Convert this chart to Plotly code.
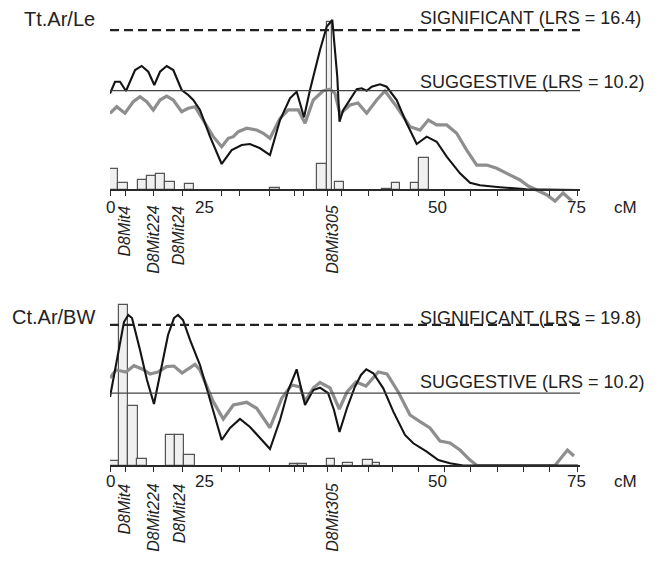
import plotly.graph_objects as go

# ---------------- data ----------------
# Top panel: Tt.Ar/Le  (x in cM-scale position, y in LRS)
TOP_BLACK_CM = [0, 0.8, 1.6, 2.55, 4.0, 5.06, 6.11, 7.07, 7.98, 9.05, 10.1, 11.44, 12.49, 13.29, 14.36,
                15.96, 17.82, 19.42, 21.02, 22.34, 23.94, 25.53, 27.13, 28.72, 29.79, 30.96, 31.91,
                33.51, 34.58, 35.47, 36.27, 36.62, 37.23, 38.30, 39.37, 40.16, 40.96, 41.76, 43.08,
                44.15, 45.75, 47.34, 48.94, 50.54, 52.13, 53.73, 55.85, 57.45, 59.04, 62.23, 66.49, 74.7]
TOP_BLACK_LRS = [9.9, 11.1, 11.1, 10.15, 12.3, 12.72, 12.13, 10.77, 12.13, 12.72, 12.31, 10.26, 9.74, 9.23, 8.21,
                 5.47, 2.67, 4.10, 4.62, 4.72, 4.28, 3.59, 7.18, 9.41, 10.08, 7.46, 10.26,
                 14.36, 16.75, 17.44, 11.62, 7.0, 8.21, 9.23, 10.33, 10.43, 10.18, 10.59, 10.84,
                 10.59, 9.23, 6.84, 4.72, 5.47, 4.95, 3.42, 1.71, 0.75, 0.48, 0.28, 0.07, 0]
TOP_GRAY_CM = [0, 1.07, 2.39, 3.72, 4.79, 5.86, 6.91, 7.98, 9.05, 10.10, 11.44, 12.49, 13.56, 14.89,
               16.48, 17.82, 18.88, 19.68, 20.47, 21.81, 23.41, 24.46, 25.53, 27.13, 28.45, 30.05,
               31.12, 32.44, 34.04, 35.11, 35.90, 36.70, 38.30, 39.57, 40.96, 42.56, 43.88, 45.75,
               47.87, 49.47, 50.79, 52.13, 53.73, 55.32, 56.92, 58.52, 60.11, 61.71, 63.83, 65.43,
               66.75, 68.09, 69.73, 71.01, 72.29, 73.72]
TOP_GRAY_LRS = [7.87, 8.54, 7.87, 9.06, 9.57, 9.06, 8.21, 9.23, 9.64, 9.23, 8.03, 8.38, 8.54, 7.18,
                5.47, 4.44, 5.30, 5.47, 5.98, 6.33, 6.15, 5.82, 5.30, 7.35, 8.21, 8.21,
                6.84, 9.23, 10.18, 10.33, 9.92, 7.8, 8.72, 8.92, 7.87, 9.23, 10.15, 8.54,
                6.49, 6.15, 7.18, 6.67, 6.67, 5.82, 4.10, 2.56, 2.56, 2.23, 1.54, 1.03,
                0.41, 0, -0.51, -1.13, -0.31, -1.13]
TOP_BOOT_CM = [0.66, 2.07, 5.18, 6.59, 8.06, 9.57, 12.69, 26.33, 33.78, 35.03, 36.62, 44.15, 45.61, 48.67, 50.15]
TOP_BOOT_W = [1.32, 1.5, 1.34, 1.5, 1.44, 1.6, 1.44, 1.6, 1.6, 0.9, 1.44, 1.6, 1.32, 1.37, 1.6]
TOP_BOOT_PCT = [12.3, 4.0, 6.0, 8.5, 9.5, 4.9, 3.4, 1.0, 15.5, 100, 4.9, 0.6, 4.0, 4.0, 19.3]
TOP_SIG, TOP_SUG = 16.4, 10.2

# Bottom panel: Ct.Ar/BW
BOT_BLACK_CM = [0, 1.28, 2.23, 2.92, 3.51, 4.79, 5.90, 7.02, 7.98, 9.26, 10.21, 10.85, 11.65, 12.77,
                14.36, 15.96, 17.82, 19.15, 20.74, 22.34, 23.94, 25.53, 27.13, 28.45, 29.79, 31.12,
                32.44, 33.51, 34.79, 35.74, 36.62, 37.82, 39.09, 40.05, 40.90, 42.02, 43.61, 45.21,
                47.07, 48.40, 50.54, 52.39, 54.25, 56.37, 74.68]
BOT_BLACK_LRS = [9.65, 15.56, 20.21, 21.20, 20.77, 16.27, 12.04, 8.66, 12.75, 18.38, 20.77, 21.20, 20.49, 17.68,
                 14.15, 9.23, 3.59, 5.28, 6.55, 5.42, 3.87, 2.32, 6.41, 10.63, 13.55, 8.52,
                 10.63, 10.96, 10.21, 7.82, 4.72, 8.10, 11.10, 12.75, 13.55, 12.99, 10.87, 7.58,
                 4.30, 3.13, 1.94, 0.77, 0.31, 0, 0]
BOT_GRAY_CM = [0, 0.96, 1.76, 2.55, 3.83, 5.11, 6.38, 7.66, 9.05, 10.21, 11.49, 12.61, 13.56, 14.36,
               15.32, 16.48, 18.08, 19.68, 21.81, 23.41, 25.53, 27.40, 28.99, 30.32, 31.12, 32.44,
               33.51, 35.11, 36.59, 37.82, 39.26, 40.85, 42.81, 44.20, 46.00, 47.87, 49.47, 51.06,
               52.66, 54.25, 55.85, 57.45, 58.56, 71.01, 73.0, 74.04]
BOT_GRAY_LRS = [12.32, 13.45, 13.31, 13.17, 14.06, 13.59, 12.89, 13.17, 13.92, 14.01, 13.03, 13.73, 14.25, 13.45,
                11.34, 8.99, 6.55, 8.52, 8.90, 8.06, 5.32, 9.46, 11.34, 11.06, 9.08, 10.92,
                11.69, 10.92, 7.96, 10.35, 11.76, 11.20, 13.17, 12.89, 10.35, 7.11, 6.17, 5.28,
                3.45, 3.17, 2.18, 0.77, 0, 0, 2.18, 1.34]
BOT_BOOT_CM = [0.74, 2.15, 3.61, 5.12, 9.65, 11.09, 12.69, 29.36, 30.7, 35.24, 38.03, 41.12, 42.5]
BOT_BOOT_W = [1.48, 1.34, 1.57, 1.47, 1.43, 1.44, 1.75, 1.28, 1.39, 1.32, 1.6, 1.6, 1.16]
BOT_BOOT_PCT = [2.4, 95.5, 35.4, 3.6, 18.2, 18.2, 6.5, 0.9, 0.9, 3.6, 1.5, 3.0, 1.2]
BOT_SIG, BOT_SUG = 19.8, 10.2

# Axis: marker tick positions, labelled markers and scale labels
TICK_CM = [0, 2.55, 7.02, 11.49, 17.87, 20.74, 25.53, 29.52, 30.8, 34.63, 36.94, 41.25, 45.0,
           49.15, 53.3, 57.45, 61.76, 65.91, 70.21, 74.68]
MARKER_NAMES = ["D8Mit4", "D8Mit224", "D8Mit24", "D8Mit305"]
MARKER_CM = [2.39, 6.91, 11.06, 35.47]
SCALE_TEXT = ["0", "25", "50", "75"]
SCALE_POS = [0, 15.0, 52.2, 74.5]
UNIT_TEXT = "cM"

# ---------------- figure ----------------
W, H = 663, 561
FONT = "Liberation Sans, Arial, sans-serif"
X0, X1 = 110, 580


def py(p):
    return 1 - p / H


fig = go.Figure()

panels = [
    dict(title="Tt.Ar/Le", xa="x", yb="y", yl="y3", axis_py=190, dom=(10, 215), lrs_px=9.75,
         bootc=TOP_BOOT_CM, bootw=TOP_BOOT_W, bootp=TOP_BOOT_PCT,
         bx=TOP_BLACK_CM, by=TOP_BLACK_LRS, gx=TOP_GRAY_CM, gy=TOP_GRAY_LRS,
         sig=TOP_SIG, sug=TOP_SUG, title_py=19, title_x=22, sig_py=18.5, sug_py=81.5,
         scale_py=207.5, marker_py=203),
    dict(title="Ct.Ar/BW", xa="x2", yb="y2", yl="y4", axis_py=465.5, dom=(290, 490), lrs_px=7.1,
         bootc=BOT_BOOT_CM, bootw=BOT_BOOT_W, bootp=BOT_BOOT_PCT,
         bx=BOT_BLACK_CM, by=BOT_BLACK_LRS, gx=BOT_GRAY_CM, gy=BOT_GRAY_LRS,
         sig=BOT_SIG, sug=BOT_SUG, title_py=317, title_x=10, sig_py=318, sug_py=381.7,
         scale_py=481.7, marker_py=481),
]

BOOT_PX = 1.68  # px per bootstrap unit
annotations = []
shapes = []

for i, p in enumerate(panels):
    xa, yb, yl = p["xa"], p["yb"], p["yl"]
    fig.add_trace(go.Bar(x=p["bootc"], y=p["bootp"], width=p["bootw"], xaxis=xa, yaxis=yb,
                         marker=dict(color="#f0f0f0", line=dict(color="#555555", width=1.2)),
                         showlegend=False, hoverinfo="skip"))
    fig.add_trace(go.Scatter(x=p["gx"], y=p["gy"], mode="lines", xaxis=xa, yaxis=yl,
                             line=dict(color="#8e8e8e", width=3.2), showlegend=False))
    fig.add_trace(go.Scatter(x=p["bx"], y=p["by"], mode="lines", xaxis=xa, yaxis=yl,
                             line=dict(color="#141414", width=2.1), showlegend=False))

    top, bot = p["dom"]
    ap = p["axis_py"]
    lrs_range = [-(bot - ap) / p["lrs_px"], (ap - top) / p["lrs_px"]]
    boot_range = [-(bot - ap) / BOOT_PX, (ap - top) / BOOT_PX]
    xname = "xaxis" if i == 0 else "xaxis2"
    ybname = "yaxis" if i == 0 else "yaxis2"
    ylname = "yaxis3" if i == 0 else "yaxis4"
    fig.layout[xname] = dict(domain=[X0 / W, X1 / W], range=[0, 75], anchor="free", position=py(ap),
                             showline=True, linecolor="#2a2a2a", linewidth=2, ticks="outside",
                             ticklen=5, tickwidth=1.2, tickcolor="#2a2a2a", tickvals=TICK_CM,
                             showticklabels=False, showgrid=False, zeroline=False)
    fig.layout[ybname] = dict(domain=[py(bot), py(top)], range=boot_range, visible=False,
                              anchor=xa)
    fig.layout[ylname] = dict(domain=[py(bot), py(top)], range=lrs_range, visible=False,
                              overlaying=yb, anchor=xa)

    # threshold lines
    shapes.append(dict(type="line", xref=xa, yref=yl, x0=0, x1=75, y0=p["sig"], y1=p["sig"],
                       line=dict(color="#222222", width=2.4, dash="9px,5px")))
    shapes.append(dict(type="line", xref=xa, yref=yl, x0=0, x1=75, y0=p["sug"], y1=p["sug"],
                       line=dict(color="#444444", width=1.2)))

    # texts
    annotations.append(dict(text=p["title"], x=p["title_x"] / W, y=py(p["title_py"]), xref="paper",
                            yref="paper", xanchor="left", yanchor="middle", showarrow=False,
                            font=dict(family=FONT, size=20, color="#222")))
    annotations.append(dict(text=f"SIGNIFICANT (LRS = {p['sig']})", x=418 / W, y=py(p["sig_py"]),
                            xref="paper", yref="paper", xanchor="left", yanchor="middle",
                            showarrow=False, font=dict(family=FONT, size=18, color="#222")))
    annotations.append(dict(text=f"SUGGESTIVE (LRS = {p['sug']})", x=418 / W, y=py(p["sug_py"]),
                            xref="paper", yref="paper", xanchor="left", yanchor="middle",
                            showarrow=False, font=dict(family=FONT, size=18, color="#222")))
    for t, xp in zip(SCALE_TEXT, SCALE_POS):
        annotations.append(dict(text=t, x=xp, y=py(p["scale_py"]), xref=xa, yref="paper",
                                xanchor="center", yanchor="middle", showarrow=False,
                                font=dict(family=FONT, size=17, color="#222")))
    annotations.append(dict(text=UNIT_TEXT, x=625 / W, y=py(p["scale_py"]), xref="paper", yref="paper",
                            xanchor="center", yanchor="middle", showarrow=False,
                            font=dict(family=FONT, size=17, color="#222")))
    for name, xp in zip(MARKER_NAMES, MARKER_CM):
        annotations.append(dict(text=f"<i>{name}</i>", x=xp, y=py(p["marker_py"]), xref=xa,
                                yref="paper", xanchor="center", yanchor="top", textangle=-90,
                                showarrow=False, font=dict(family=FONT, size=16, color="#222")))

fig.update_layout(width=W, height=H, margin=dict(l=0, r=0, t=0, b=0),
                  paper_bgcolor="white", plot_bgcolor="rgba(0,0,0,0)",
                  barmode="overlay", bargap=0, shapes=shapes, annotations=annotations,
                  showlegend=False)

fig.write_html("out.html", config={"displayModeBar": False},
               post_script="document.body.style.margin='0';")
